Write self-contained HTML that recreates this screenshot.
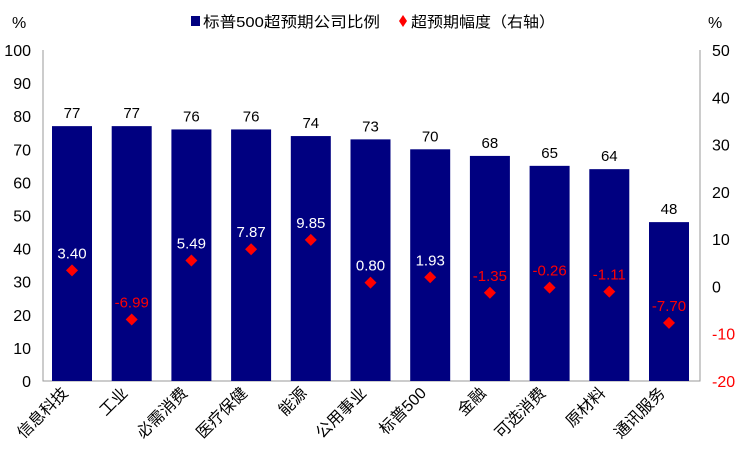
<!DOCTYPE html>
<html><head><meta charset="utf-8"><style>
body{margin:0;background:#fff;}
svg{font-family:"Liberation Sans","Noto Sans CJK SC",sans-serif;}
</style></head><body>
<svg id="chart" width="750" height="465" viewBox="0 0 750 465"></svg>
<script>
const categories=["信息科技","工业","必需消费","医疗保健","能源","公用事业","标普500","金融","可选消费","原材料","通讯服务"];
const beatRatio=[77,77,76,76,74,73,70,68,65,64,48];
const beatMagnitude=[3.40,-6.99,5.49,7.87,9.85,0.80,1.93,-1.35,-0.26,-1.11,-7.70];
const leftTicks=[0,10,20,30,40,50,60,70,80,90,100];
const rightTicks=[-20,-10,0,10,20,30,40,50];
const NS="http://www.w3.org/2000/svg";
const svg=document.getElementById('chart');
const X0=43,X1=700,YT=50,YB=381;
const yL=v=>YB-(v-0)/(100-0)*(YB-YT);
const yR=v=>YB-(v+20)/70*(YB-YT);
const xC=i=>72+59.7*i;
function el(tag,attrs,txt){const e=document.createElementNS(NS,tag);for(const k in attrs)e.setAttribute(k,attrs[k]);if(txt!==undefined)e.textContent=txt;svg.appendChild(e);return e;}
let a=el('path',{d:`M${X0} ${YT}V${YB}H${X1}V${YT}`,fill:'none',stroke:'#999','stroke-width':1});

leftTicks.forEach(v=>{
 let t=el('text',{x:X0-12,y:yL(v)+6,'text-anchor':'end','font-size':16,fill:'#000'},v);
 
});
rightTicks.forEach(v=>{
 let t=el('text',{x:X1+12,y:yR(v)+6,'text-anchor':'start','font-size':16,fill:v<0?'#f00':'#000'},v);
 
});
let u1=el('text',{x:12,y:28,'font-size':16},'%');
let u2=el('text',{x:708,y:28,'font-size':16},'%');
let lg1=el('rect',{x:191,y:16,width:9,height:10,fill:'#000080'});
let lt1=el('text',{x:203,y:27,'font-size':15,textLength:177,lengthAdjust:'spacingAndGlyphs'},'标普500超预期公司比例');
let lg2=el('path',{d:'M403 15L407 21L403 27L399 21Z',fill:'#f00'});
let lt2=el('text',{x:411,y:27,'font-size':15,textLength:144,lengthAdjust:'spacingAndGlyphs'},'超预期幅度（右轴）');
const bw=40;
categories.forEach((c,i)=>{
 const cx=xC(i);
 let b=el('rect',{x:cx-bw/2,y:yL(beatRatio[i]),width:bw,height:YB-yL(beatRatio[i]),fill:'#000080'});
 
 let bl=el('text',{x:cx,y:yL(beatRatio[i])-8,'text-anchor':'middle','font-size':15},beatRatio[i]);
 
 const my=yR(beatMagnitude[i]);
 let m=el('path',{d:`M${cx} ${my-6}L${cx+6} ${my}L${cx} ${my+6}L${cx-6} ${my}Z`,fill:'#f00'});
 
 let ml=el('text',{x:cx,y:my-12,'text-anchor':'middle','font-size':15,fill:beatMagnitude[i]<0?'#f00':'#fff'},beatMagnitude[i].toFixed(2));
 
 const lx=cx-3,ly=394;
 let xl=el('text',{x:lx,y:ly,'text-anchor':'end','font-size':16,transform:`rotate(-45 ${lx} ${ly})`},c);
 
});
</script>
</body></html>
